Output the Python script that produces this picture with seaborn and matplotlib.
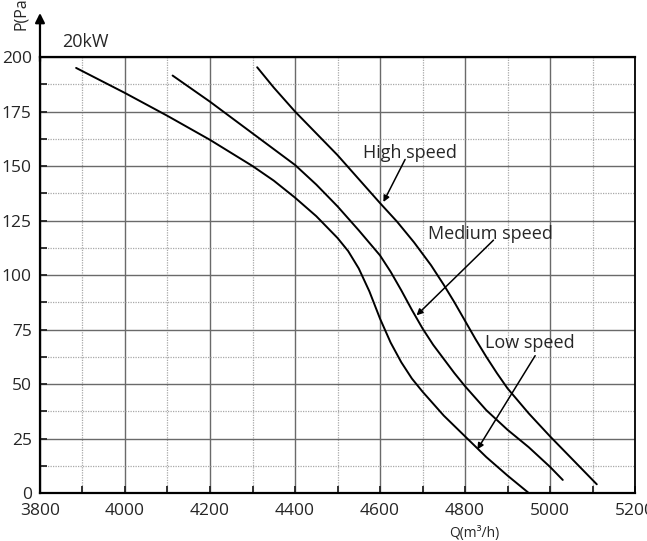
import numpy as np
import pandas as pd
import matplotlib
matplotlib.use("Agg")
import matplotlib.pyplot as plt
from matplotlib.ticker import MultipleLocator
import seaborn as sns

# fan curves: airflow Q (m3/h) vs static pressure P (Pa)
low_q = [3885, 4000, 4100, 4200, 4300, 4350, 4400, 4450, 4500, 4525, 4550,
         4575, 4600, 4625, 4650, 4675, 4700, 4750, 4800, 4850, 4900, 4950]
low_p = [195, 183.5, 173, 162, 150, 143.3, 135.5, 127, 117, 111, 103,
         92.5, 80, 69, 60, 52.5, 46.5, 35.5, 26, 16.5, 8, 0]

med_q = [4112, 4200, 4300, 4400, 4450, 4500, 4550, 4600, 4625, 4650, 4675,
         4700, 4725, 4750, 4775, 4800, 4850, 4900, 4950, 5000, 5030]
med_p = [191.5, 179.5, 165, 150.5, 141.5, 131.5, 120.5, 109, 101.5, 93, 84,
         75.5, 68, 61.5, 55, 49, 38, 29, 21, 12, 6]

high_q = [4311, 4350, 4400, 4450, 4500, 4550, 4600, 4640, 4680, 4720, 4750,
          4775, 4800, 4825, 4850, 4875, 4900, 4950, 5000, 5050, 5110]
high_p = [195.3, 186, 175, 165, 155, 144, 133, 124.5, 115, 104.5, 95.5,
          87.5, 79, 70.5, 62.5, 55, 48, 36.5, 26, 16, 4]

x_ticks = [3800, 4000, 4200, 4400, 4600, 4800, 5000, 5200]
y_ticks = [0, 25, 50, 75, 100, 125, 150, 175, 200]

# label text, label position, arrow tail, arrow tip (data coords)
labels = [
    ("High speed", (4671, 156), (4659, 153), (4608, 133.5)),
    ("Medium speed", (4859, 119), (4867, 116), (4686, 81.5)),
    ("Low speed", (4953, 69), (4965, 63), (4829, 20)),
]

sns.set_style("white")
plt.rcParams['font.family'] = ['Open Sans', 'DejaVu Sans']

fig = plt.figure(figsize=(6.47, 5.41), dpi=100)
ax = fig.add_axes([0.0618, 0.0887, 0.9197, 0.8059])

curves = pd.concat([
    pd.DataFrame({"Q": low_q, "P": low_p, "speed": "Low"}),
    pd.DataFrame({"Q": med_q, "P": med_p, "speed": "Medium"}),
    pd.DataFrame({"Q": high_q, "P": high_p, "speed": "High"}),
])
for name, grp in curves.groupby("speed"):
    sns.lineplot(data=grp, x="Q", y="P", sort=False, estimator=None,
                 color="black", lw=1.4, ax=ax)

ax.set_xlim(3800, 5200)
ax.set_ylim(0, 200)
ax.set_xticks(x_ticks)
ax.set_yticks(y_ticks)
ax.xaxis.set_minor_locator(MultipleLocator(100))
ax.yaxis.set_minor_locator(MultipleLocator(12.5))

ax.grid(which="major", color="#6a6a6a", lw=1.0, ls="-")
ax.grid(which="minor", color="#a8a8a8", lw=0.9, ls=(0, (1, 1)))
ax.set_axisbelow(True)

ax.tick_params(which="both", direction="in", length=5, width=1.3,
               color="#222222", labelsize=12.5, bottom=True, left=True)
ax.tick_params(axis="y", pad=6)
ax.tick_params(axis="x", pad=7)

for side in ["left", "bottom", "top", "right"]:
    ax.spines[side].set_visible(True)
    ax.spines[side].set_color("black")
    ax.spines[side].set_linewidth(1.6)
ax.spines["right"].set_linewidth(1.3)

ax.set_ylabel("")
ax.set_xlabel("Q(m³/h)", fontsize=10)
ax.xaxis.set_label_coords(0.73, -0.075)

# y-axis arrow above the frame
ax.annotate("", xy=(0, 1.101), xytext=(0, 0.99), xycoords="axes fraction",
            textcoords="axes fraction",
            arrowprops=dict(arrowstyle="-|>", color="black", lw=1.6,
                            mutation_scale=14, shrinkA=0, shrinkB=0),
            annotation_clip=False)
fig.text(21 / 647, 1 - 30 / 541, "P(Pa)", rotation=90, ha="center",
         va="bottom", fontsize=11.5)

ax.text(0.038, 1.034, "20kW", transform=ax.transAxes, ha="left",
        va="center", fontsize=13)

for text, pos, tail, tip in labels:
    ax.text(pos[0], pos[1], text, ha="center", va="center", fontsize=13)
    ax.annotate("", xy=tip, xytext=tail,
                arrowprops=dict(arrowstyle="-|>", color="black", lw=1.1,
                                mutation_scale=9, shrinkA=0, shrinkB=0))

fig.savefig("out.png", dpi=100)
